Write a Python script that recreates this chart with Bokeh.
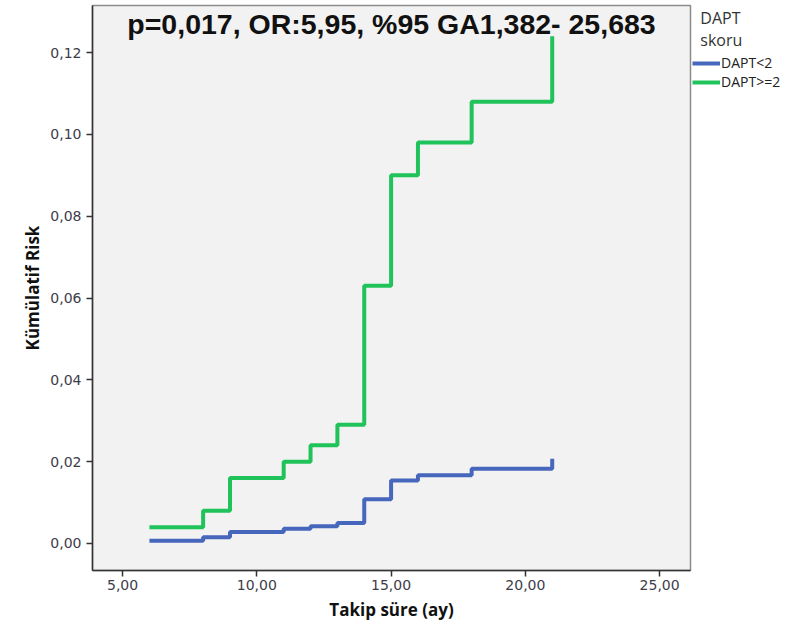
from bokeh.plotting import figure
from bokeh.models import (Range1d, FixedTicker, CustomJSTickFormatter, Label,
                          Legend, LegendItem)
from bokeh.embed import file_html
from bokeh.resources import INLINE

# Data
times = [6, 8, 9, 11, 12, 13, 14, 15, 16, 18, 21]
risk_low = [0.0007, 0.0015, 0.0028, 0.0036, 0.0042, 0.0050, 0.0108, 0.0154, 0.0167, 0.0183, 0.0207]
risk_high = [0.004, 0.008, 0.016, 0.020, 0.024, 0.029, 0.063, 0.090, 0.098, 0.108, 0.124]
series_names = ["DAPT<2", "DAPT>=2"]
x_ticks = [5, 10, 15, 20, 25]
y_ticks = [0.0, 0.02, 0.04, 0.06, 0.08, 0.10, 0.12]
title_text = "p=0,017, OR:5,95, %95 GA1,382- 25,683"
legend_title = "\u00a0\u00a0DAPT\n\u00a0\u00a0skoru"

BLUE = "#4767bd"
GREEN = "#1fc35a"

p = figure(frame_width=598, frame_height=565, output_backend="svg", toolbar_location=None,
           x_range=Range1d(3.88, 26.15), y_range=Range1d(-0.0066, 0.1315),
           min_border_left=92, min_border_right=0, min_border_top=5,
           min_border_bottom=58)

p.background_fill_color = "#f2f2f2"
p.border_fill_color = "white"
p.outline_line_color = "#8c8c8c"
p.outline_line_width = 1.5
p.xgrid.visible = False
p.ygrid.visible = False

r_low = p.step(times, risk_low, mode="after", line_color=BLUE, line_width=4)
r_high = p.step(times, risk_high, mode="after", line_color=GREEN, line_width=4)

fmt = CustomJSTickFormatter(code="return tick.toFixed(2).replace('.', ',');")
for ax, ticks in ((p.xaxis[0], x_ticks), (p.yaxis[0], y_ticks)):
    ax.ticker = FixedTicker(ticks=ticks)
    ax.formatter = fmt
    ax.minor_tick_line_color = None
    ax.major_tick_in = 0
    ax.major_tick_out = 6
    ax.major_tick_line_color = "#333333"
    ax.major_tick_line_width = 1.5
    ax.axis_line_color = "#333333"
    ax.axis_line_width = 1.5
    ax.major_label_text_font = "DejaVu Sans"
    ax.major_label_text_font_size = "14px"
    ax.major_label_text_color = "#3d3d4a"
    ax.axis_label_text_font = "Open Sans"
    ax.axis_label_text_font_style = "bold"
    ax.axis_label_text_font_size = "17px"
    ax.axis_label_text_color = "#111111"

p.xaxis[0].axis_label = "Takip süre (ay)"
p.yaxis[0].axis_label = "Kümülatif Risk"
p.xaxis[0].major_label_standoff = 3
p.xaxis[0].axis_label_standoff = 5
p.yaxis[0].major_label_standoff = 5
p.yaxis[0].axis_label_standoff = 3

p.add_layout(Label(x=299, y=563, x_units="screen", y_units="screen",
                   text=title_text, text_align="center", text_baseline="top",
                   text_font="Liberation Sans", text_font_style="bold",
                   text_font_size="28.5px", text_color="#111111"))

legend = Legend(items=[LegendItem(label=series_names[0], renderers=[r_low]),
                       LegendItem(label=series_names[1], renderers=[r_high])],
                title=legend_title, location="top_left")
legend.title_text_font = "Open Sans"
legend.title_text_font_size = "16px"
legend.title_text_font_style = "normal"
legend.title_text_color = "#333333"
legend.title_text_line_height = 1.3
legend.title_standoff = 2
legend.label_text_font = "Open Sans"
legend.label_text_font_size = "14px"
legend.label_text_line_height = 1.0
legend.label_text_color = "#222222"
legend.glyph_width = 28
legend.glyph_height = 10
legend.label_standoff = 1
legend.spacing = -6
legend.padding = 2
legend.margin = 2
legend.label_height = 10
legend.border_line_color = None
legend.background_fill_alpha = 0
p.add_layout(legend, "right")

open("out.html", "w").write(file_html(p, INLINE))
